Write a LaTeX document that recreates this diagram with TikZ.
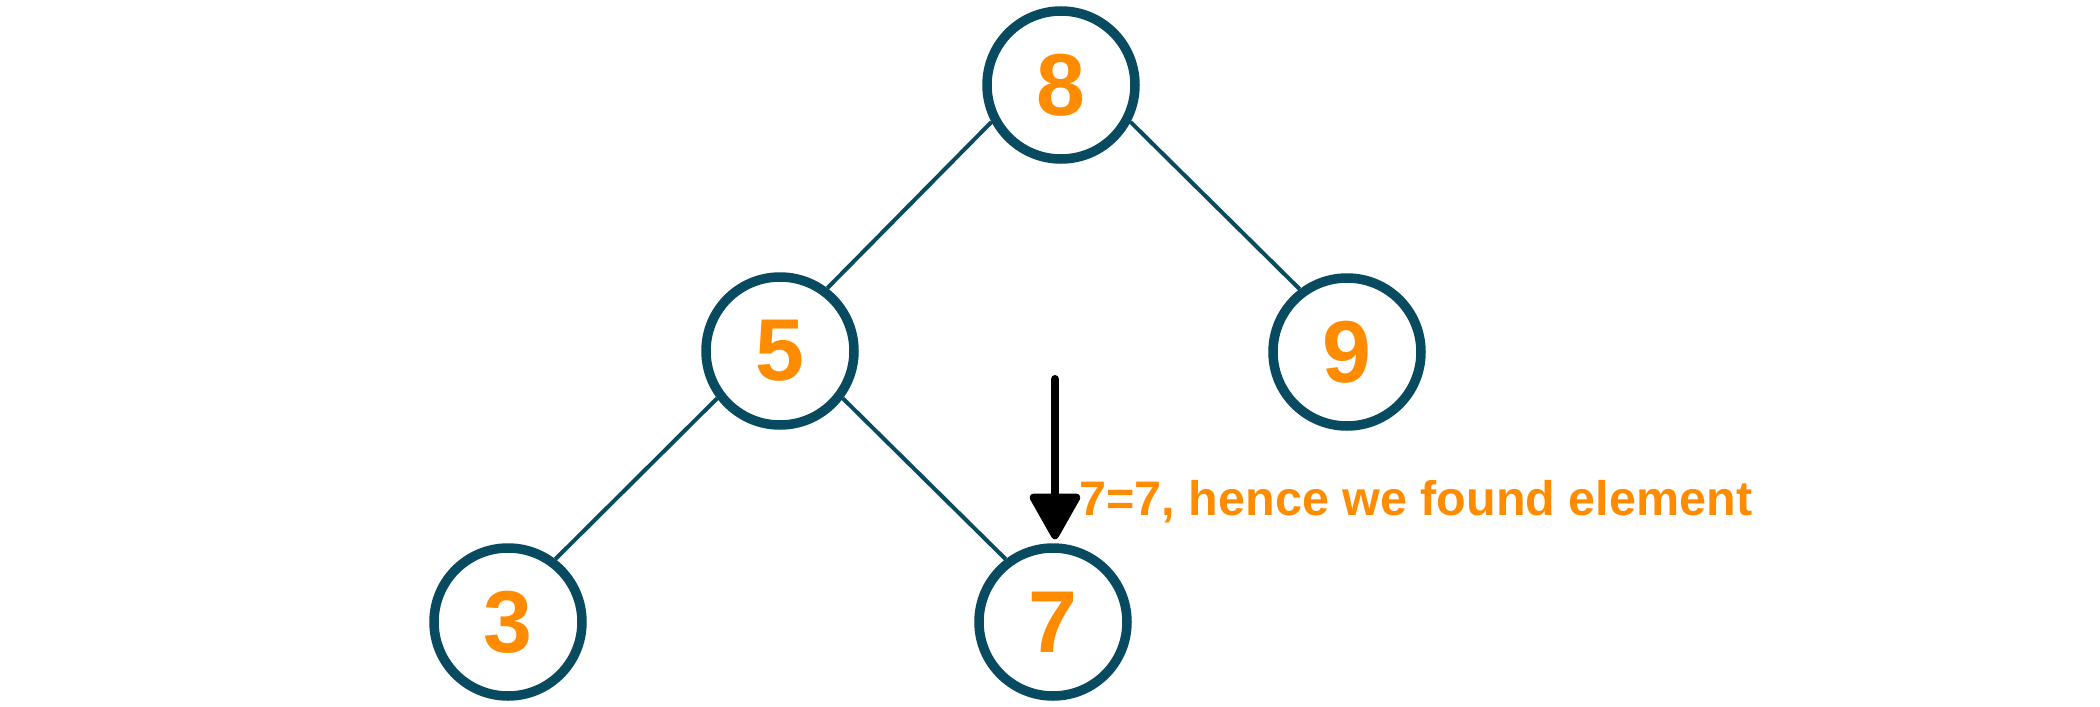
\documentclass[tikz,border=0pt]{standalone}
\usepackage{fontspec}
\setmainfont{Liberation Sans}
\usepackage{tikz}
\usetikzlibrary{arrows.meta, positioning}
\definecolor{ringblue}{RGB}{8,75,97}
\definecolor{keyorange}{RGB}{255,140,0}
\tikzstyle{arrow}=[-{Triangle[width=0.54cm, length=0.5cm, round]}, line width=0.08cm, line cap=round, color=black]

\begin{document}
\begin{tikzpicture}[node distance=2.7cm and 2.8cm, on grid,
  vtx/.style={circle, draw=ringblue, line width=0.95mm, fill=white,
              minimum size=1.48cm, inner sep=0pt, text=keyorange,
              font=\fontsize{25}{30}\selectfont\bfseries},
  edge/.style={draw=ringblue, line width=0.04cm},
  msg/.style={anchor=base west, inner sep=0pt, text=keyorange,
              font=\fontsize{13.8}{16}\selectfont\bfseries}
]
\useasboundingbox (0,0) rectangle (21,-7.07);
% Root
\node[vtx] (n8) at (10.61,-0.85) {8};

% Second level
\node[vtx, below left=2.66cm and 2.81cm of n8] (n5) {5};
\node[vtx, below right=2.67cm and 2.86cm of n8] (n9) {9};

% Third level
\node[vtx, below left=2.71cm and 2.72cm of n5] (n3) {3};
\node[vtx, below right=2.71cm and 2.73cm of n5] (n7) {7};

\draw[edge] (n8.208) -- (n5.53);
\draw[edge] (n8.-28) -- (n9.127);
\draw[edge] (n5.217) -- (n3.53);
\draw[edge] (n5.-37) -- (n7.127);

% Search pointer
\coordinate (ptr) at (10.55,-3.79);
\draw[arrow, shorten >=0.04cm] (ptr) -- (ptr |- n7.north);
\node[msg] (found) at (10.79,-5.15) {7=7, hence we found element};
\end{tikzpicture}
\end{document}
